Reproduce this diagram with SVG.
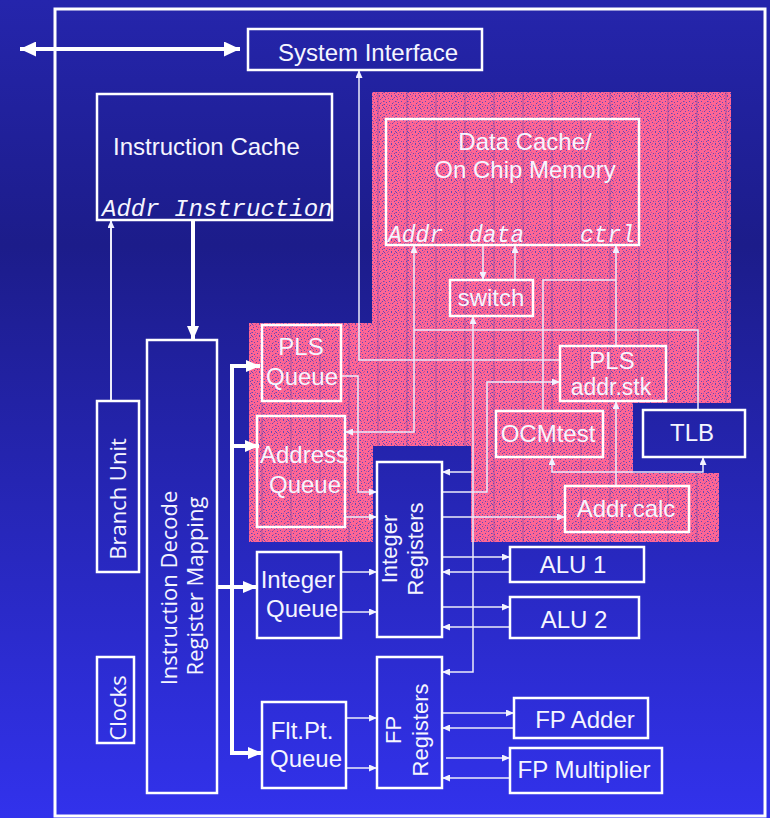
<svg xmlns="http://www.w3.org/2000/svg" width="770" height="818" viewBox="0 0 770 818">
<defs>
<linearGradient id="bg" x1="0" y1="0" x2="0" y2="1">
<stop offset="0" stop-color="#2525ac"/>
<stop offset="0.3" stop-color="#1c1c8a"/>
<stop offset="1" stop-color="#3232ec"/>
</linearGradient>
<pattern id="pk" width="12" height="12" patternUnits="userSpaceOnUse">
<rect width="12" height="12" fill="#ff6694"/>
<g fill="#6048b8">
<rect x="0" y="0" width="1" height="1"/><rect x="7" y="0" width="1" height="1"/><rect x="10" y="1" width="1" height="1"/><rect x="4" y="2" width="1" height="1"/><rect x="1" y="3" width="1" height="1"/><rect x="8" y="3" width="1" height="1"/><rect x="5" y="5" width="1" height="1"/><rect x="11" y="5" width="1" height="1"/><rect x="2" y="6" width="1" height="1"/><rect x="8" y="7" width="1" height="1"/><rect x="0" y="8" width="1" height="1"/><rect x="5" y="9" width="1" height="1"/><rect x="10" y="9" width="1" height="1"/><rect x="2" y="10" width="1" height="1"/><rect x="7" y="11" width="1" height="1"/><rect x="11" y="11" width="1" height="1"/>
</g>
<g fill="#c0509c">
<rect x="3" y="0" width="1" height="1"/><rect x="9" y="2" width="1" height="1"/><rect x="6" y="3" width="1" height="1"/><rect x="0" y="5" width="1" height="1"/><rect x="9" y="6" width="1" height="1"/><rect x="3" y="8" width="1" height="1"/><rect x="7" y="9" width="1" height="1"/><rect x="4" y="11" width="1" height="1"/><rect x="1" y="1" width="1" height="1"/><rect x="11" y="8" width="1" height="1"/>
</g>
</pattern>
<pattern id="st" width="29" height="10" patternUnits="userSpaceOnUse">
<rect x="0" y="0" width="2" height="10" fill="#4a3aa8" opacity="0.22"/>
</pattern>
<marker id="a" viewBox="0 0 8 7" refX="8" refY="3.5" markerWidth="8" markerHeight="7" markerUnits="userSpaceOnUse" orient="auto-start-reverse"><path d="M0,0L8,3.5L0,7z" fill="#f2f2ff"/></marker>
<marker id="b" viewBox="0 0 14 12" refX="14" refY="6" markerWidth="14" markerHeight="12" markerUnits="userSpaceOnUse" orient="auto-start-reverse"><path d="M0,0L14,6L0,12z" fill="#ffffff"/></marker>
<marker id="c" viewBox="0 0 16 15" refX="16" refY="7.5" markerWidth="16" markerHeight="15" markerUnits="userSpaceOnUse" orient="auto-start-reverse"><path d="M0,0L16,7.5L0,15z" fill="#ffffff"/></marker>
</defs>
<style>
.b{fill:none;stroke:#ffffff;stroke-width:2.5}
.t{font-family:"Liberation Sans",Arial,sans-serif;font-size:24px;fill:#f5f5ff}
.tm{font-family:"Liberation Sans",Arial,sans-serif;font-size:24px;fill:#f5f5ff;text-anchor:middle}
.r{font-family:"Liberation Sans",Arial,sans-serif;font-size:22px;fill:#f5f5ff;text-anchor:middle}
.o{font-family:"Open Sans","Noto Sans",sans-serif;font-size:22px;fill:#f5f5ff;text-anchor:middle}
.m{font-family:"Liberation Mono","Courier New",monospace;font-style:italic;font-size:23px;fill:#f5f5ff}
.l{fill:none;stroke:#ececfa;stroke-width:1.5}
.la{fill:none;stroke:#ececfa;stroke-width:1.5;marker-end:url(#a)}
.k{fill:none;stroke:#ffffff;stroke-width:4}
.ka{fill:none;stroke:#ffffff;stroke-width:4;marker-end:url(#b)}
</style>
<rect x="0" y="0" width="770" height="818" fill="url(#bg)"/>
<g id="pink-area">
<path d="M372,92H731V403H633V473H719V542H471V446H373V542H249V323H372Z" fill="url(#pk)"/>
<path d="M372,92H731V403H633V473H719V542H471V446H373V542H249V323H372Z" fill="url(#st)"/>
</g>
<rect id="chip-frame" x="55" y="9" width="710" height="807" fill="none" stroke="#ffffff" stroke-width="3"/>

<g id="connectors">
<path d="M20,49H240" fill="none" stroke="#ffffff" stroke-width="4" marker-start="url(#c)" marker-end="url(#c)"/>
<path class="la" d="M560,360H359V70"/>
<path class="la" d="M111,401V220" style="stroke-width:2"/>
<path class="ka" d="M193,220V340"/>
<path class="k" d="M217,587H232M232,364V755"/>
<path class="ka" d="M232,366H260"/>
<path class="ka" d="M232,446H259"/>
<path class="ka" d="M232,587H257"/>
<path class="ka" d="M232,753H262"/>
<path class="la" d="M341,376H358V492H377"/>
<path class="la" d="M414,245V432H345" style="marker-start:url(#a)"/>
<path class="l" d="M698,410V330H414"/>
<path class="la" d="M483,245V280"/>
<path class="la" d="M515,280V245"/>
<path class="l" d="M543,411V280H616"/>
<path class="la" d="M616,346V245"/>
<path class="la" d="M616,486V401"/>
<path class="la" d="M552,457V472H703V457" style="marker-start:url(#a)"/>
<path class="la" d="M473,316V672H442" style="marker-start:url(#a)"/>
<path class="la" d="M473,472H442"/>
<path class="la" d="M442,492H487V382H560"/>
<path class="la" d="M442,517H565"/>
<path class="la" d="M345,517H377"/>
<path class="la" d="M442,557H510"/>
<path class="la" d="M510,572H442"/>
<path class="la" d="M442,607H510"/>
<path class="la" d="M510,627H442"/>
<path class="la" d="M341,572H377"/>
<path class="la" d="M341,612H377"/>
<path class="la" d="M346,718H377"/>
<path class="la" d="M346,768H377"/>
<path class="la" d="M442,713H514"/>
<path class="la" d="M514,728H442"/>
<path class="la" d="M446,758H510"/>
<path class="la" d="M510,778H442"/>
</g>

<g id="system-interface"><rect class="b" x="248" y="29" width="234" height="41"/><text class="tm" x="368" y="61">System Interface</text></g>
<g id="instruction-cache"><rect class="b" x="97" y="94" width="235" height="126"/><text class="t" x="113" y="155">Instruction Cache</text><text class="m" x="102" y="216" style="font-size:24px">Addr Instruction</text></g>
<g id="data-cache"><rect class="b" x="386" y="119" width="253" height="126"/><text class="tm" x="525" y="150">Data Cache/</text><text class="tm" x="525" y="178">On Chip Memory</text><text class="m" x="388" y="242">Addr</text><text class="m" x="469" y="242">data</text><text class="m" x="580" y="242">ctrl</text></g>
<g id="switch"><rect class="b" x="450" y="280" width="83" height="36"/><text class="tm" x="491" y="306">switch</text></g>
<g id="pls-queue"><rect class="b" x="262" y="325" width="79" height="76"/><text class="tm" x="301" y="355">PLS</text><text class="tm" x="302" y="385">Queue</text></g>
<g id="address-queue"><rect class="b" x="257" y="416" width="88" height="111"/><text class="tm" x="304" y="463">Address</text><text class="tm" x="305" y="493">Queue</text></g>
<g id="pls-addr-stk"><rect class="b" x="560" y="346" width="106" height="55"/><text class="tm" x="612" y="369">PLS</text><text class="tm" x="611" y="395" style="font-size:23px">addr.stk</text></g>
<g id="ocmtest"><rect class="b" x="496" y="411" width="107" height="46"/><text class="tm" x="548" y="442">OCMtest</text></g>
<g id="tlb"><rect class="b" x="643" y="410" width="102" height="47"/><text class="tm" x="692" y="441">TLB</text></g>
<g id="addr-calc"><rect class="b" x="565" y="486" width="124" height="46"/><text class="tm" x="626" y="517">Addr.calc</text></g>
<g id="integer-registers"><rect class="b" x="377" y="462" width="65" height="175"/><text class="r" transform="translate(397,549) rotate(-90)">Integer</text><text class="r" transform="translate(423,549) rotate(-90)">Registers</text></g>
<g id="integer-queue"><rect class="b" x="257" y="552" width="84" height="86"/><text class="tm" x="298" y="588">Integer</text><text class="tm" x="302" y="617">Queue</text></g>
<g id="alu1"><rect class="b" x="510" y="547" width="134" height="35"/><text class="tm" x="573" y="573">ALU 1</text></g>
<g id="alu2"><rect class="b" x="510" y="597" width="129" height="41"/><text class="tm" x="574" y="628">ALU 2</text></g>
<g id="fp-registers"><rect class="b" x="377" y="657" width="65" height="131"/><text class="r" transform="translate(401,730) rotate(-90)">FP</text><text class="r" transform="translate(428,730) rotate(-90)">Registers</text></g>
<g id="flt-pt-queue"><rect class="b" x="262" y="702" width="84" height="86"/><text class="tm" x="302" y="739">Flt.Pt.</text><text class="tm" x="306" y="767">Queue</text></g>
<g id="fp-adder"><rect class="b" x="514" y="698" width="134" height="40"/><text class="tm" x="585" y="728">FP Adder</text></g>
<g id="fp-multiplier"><rect class="b" x="510" y="748" width="152" height="45"/><text class="tm" x="584" y="778">FP Multiplier</text></g>
<g id="branch-unit"><rect class="b" x="97" y="401" width="42" height="171"/><text class="o" transform="translate(126,499) rotate(-90)">Branch Unit</text></g>
<g id="instruction-decode"><rect class="b" x="147" y="340" width="70" height="453"/><text class="o" transform="translate(177,588) rotate(-90)">Instruction Decode</text><text class="o" transform="translate(203,586) rotate(-90)">Register Mapping</text></g>
<g id="clocks"><rect class="b" x="97" y="657" width="37" height="86"/><text class="o" transform="translate(126,708) rotate(-90)">Clocks</text></g>
</svg>
